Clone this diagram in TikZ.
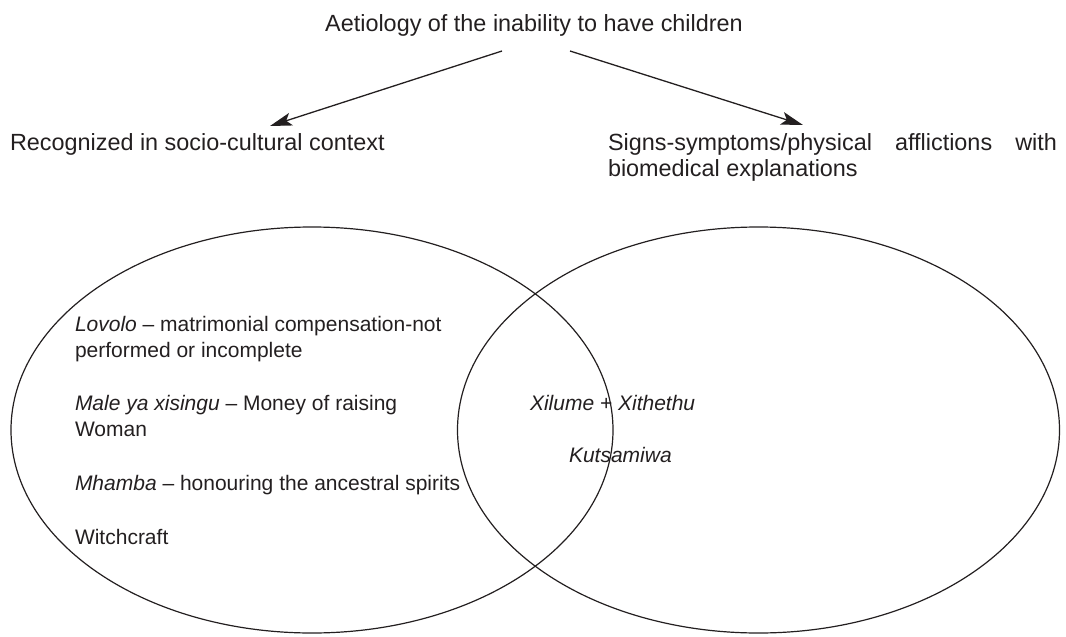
\documentclass[tikz,border=0pt]{standalone}
\usepackage{fontspec}
\setmainfont{Liberation Sans}
\usetikzlibrary{arrows.meta,shapes.geometric}
\definecolor{ink}{RGB}{35,31,32}
\begin{document}
\begin{tikzpicture}[x=1pt,y=-1pt,
  every node/.style={inner sep=0pt,outer sep=0pt,text=ink,font=\fontsize{23.4}{26.5}\selectfont},
  lbl/.style={anchor=base west},
  small/.style={font=\fontsize{21}{26.3}\selectfont},
  conn/.style={draw=ink,line width=1.3pt,-{Stealth[length=22pt,width=13pt,inset=5pt]}},
  venn/.style={ellipse,draw=ink,line width=1.2pt,minimum width=602pt,minimum height=406pt}]
\useasboundingbox (0,0) rectangle (1066,637);
% title and headings
\node[anchor=base] (title) at (534,31.5) {Aetiology of the inability to have children};
\node[lbl] (soc) at (10,150) {Recognized in socio-cultural context};
\node[lbl] (bio) at (608,150) {\vtop{\hbox to 449pt{Signs-symptoms/physical\hfill afflictions\hfill with}\hbox{biomedical explanations}}};
% connectors
\coordinate (s1) at (502,51);
\coordinate (e1) at (270,126);
\coordinate (s2) at (570,51);
\coordinate (e2) at (803,125);
\draw[conn] (s1) -- (e1);
\draw[conn] (s2) -- (e2);
% Venn ellipses
\node[venn] (left) at (312,430) {};
\node[venn] (right) at (758.5,430) {};
% left texts
\node[lbl,small] (lovolo) at (75,331) {\vtop{\hbox{\textit{Lovolo} – matrimonial compensation-not}\hbox{performed or incomplete}}};
\node[lbl,small] (male) at (75,410) {\vtop{\hbox{\textit{Male ya xisingu} – Money of raising}\hbox{Woman}}};
\node[lbl,small] (mhamba) at (75,490) {\textit{Mhamba} – honouring the ancestral spirits};
\node[lbl,small] (witch) at (75,544) {Witchcraft};
% overlap texts
\node[lbl,small] (xilume) at (530,410) {\textit{Xilume + Xithethu}};
\node[lbl,small] (kuts) at (569,462) {\textit{Kutsamiwa}};
\end{tikzpicture}
\end{document}
